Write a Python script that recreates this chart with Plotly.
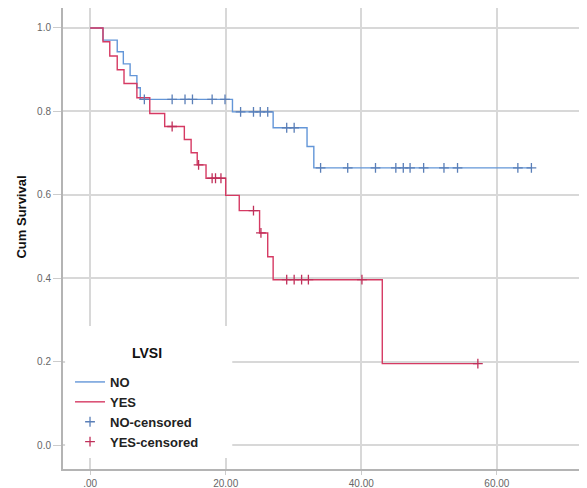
import plotly.graph_objects as go

# ---- data ----
no_times = [0, 1.9, 4.0, 4.9, 5.9, 6.9, 7.4, 21.0, 27.0, 32.0, 33.0, 65.1]
no_surv = [1.0, 0.971, 0.943, 0.914, 0.886, 0.857, 0.829, 0.799, 0.761, 0.716, 0.665, 0.665]
no_censor_times = [8.0, 12.1, 14.0, 15.1, 18.0, 19.9, 22.2, 24.1, 25.1, 26.2,
                   29.0, 30.1, 34.0, 38.0, 42.1, 45.1, 46.2, 47.2, 49.2, 52.2,
                   54.2, 63.1, 65.1]

yes_times = [0, 1.9, 2.9, 4.0, 5.0, 6.9, 8.8, 11.0, 13.9, 14.9, 15.8, 17.1,
             20.0, 22.0, 25.0, 26.2, 27.0, 43.1, 57.2]
yes_surv = [1.0, 0.967, 0.933, 0.900, 0.867, 0.833, 0.795, 0.764, 0.733, 0.701,
            0.672, 0.640, 0.599, 0.5625, 0.509, 0.452, 0.397, 0.196, 0.196]
yes_censor_times = [12.1, 16.0, 18.0, 18.5, 19.3, 24.1, 25.2, 29.0, 30.1, 31.2,
                    32.2, 40.1, 57.2]

x_tickvals = [0, 20, 40, 60]
x_ticktext = [".00", "20.00", "40.00", "60.00"]
y_tickvals = [0, 0.2, 0.4, 0.6, 0.8, 1.0]
y_ticktext = ["0.0", "0.2", "0.4", "0.6", "0.8", "1.0"]


def step_value(times, surv, t):
    v = surv[0]
    for ti, si in zip(times, surv):
        if ti <= t:
            v = si
        else:
            break
    return v


no_censor_y = [step_value(no_times, no_surv, t) for t in no_censor_times]
yes_censor_y = [step_value(yes_times, yes_surv, t) for t in yes_censor_times]

NO_COL = "#6396d8"
YES_COL = "#d63a63"

fig = go.Figure()
fig.add_trace(go.Scatter(x=no_times, y=no_surv, mode="lines", name="NO",
                         line=dict(color=NO_COL, width=1.4, shape="hv")))
fig.add_trace(go.Scatter(x=yes_times, y=yes_surv, mode="lines", name="YES",
                         line=dict(color=YES_COL, width=1.4, shape="hv")))
fig.add_trace(go.Scatter(x=no_censor_times, y=no_censor_y, mode="markers",
                         name="NO-censored",
                         marker=dict(symbol="cross-thin", size=7,
                                     line=dict(color="#5a7fb8", width=1.3))))
fig.add_trace(go.Scatter(x=yes_censor_times, y=yes_censor_y, mode="markers",
                         name="YES-censored",
                         marker=dict(symbol="cross-thin", size=7,
                                     line=dict(color="#c0305a", width=1.3))))

# plot area in page pixels: x 63..587, y 8..469 (page has an 8px body offset)
fig.update_layout(
    width=579, height=480,
    margin=dict(l=55, r=0, t=0, b=19),
    paper_bgcolor="white", plot_bgcolor="white",
    font=dict(family="Liberation Sans, Arial, sans-serif", color="#222"),
    showlegend=True,
    legend=dict(
        x=0.0134, y=0.2213, xanchor="left", yanchor="top",
        bgcolor="rgba(255,255,255,0)", borderwidth=0,
        font=dict(size=13, color="#222", weight="bold"),
        tracegroupgap=0, itemwidth=30,
    ),
    shapes=[dict(
        type="rect", xref="paper", yref="paper",
        x0=0.004, x1=0.323, y0=0.024, y1=0.31,
        fillcolor="white", line=dict(width=0), layer="above",
    )],
    annotations=[
        dict(text="<b>Cum Survival</b>", textangle=-90,
             xref="paper", yref="paper", x=-0.0788, y=0.547,
             xanchor="center", yanchor="middle",
             showarrow=False, font=dict(size=13, color="#111")),
        dict(text="<b>LVSI</b>", xref="paper", yref="paper",
             x=0.16, y=0.252, xanchor="center", yanchor="middle",
             showarrow=False, font=dict(size=14, color="#111")),
    ],
)
fig.update_xaxes(
    range=[-4, 73.3], tickvals=x_tickvals, ticktext=x_ticktext,
    showgrid=True, gridcolor="#d8d8d8", gridwidth=1.5,
    showline=True, linecolor="#b4b4b4", linewidth=2,
    ticks="outside", ticklen=4, tickcolor="#cccccc",
    tickfont=dict(size=10, color="#666"), zeroline=False, automargin=False,
)
fig.update_yaxes(
    range=[-0.0565, 1.0479], tickvals=y_tickvals, ticktext=y_ticktext,
    showgrid=True, gridcolor="#d8d8d8", gridwidth=1.5,
    showline=True, linecolor="#b4b4b4", linewidth=2,
    ticks="outside", ticklen=8, tickcolor="#cccccc",
    tickfont=dict(size=10, color="#666"), zeroline=False, automargin=False,
)

fig.write_html("out.html")
